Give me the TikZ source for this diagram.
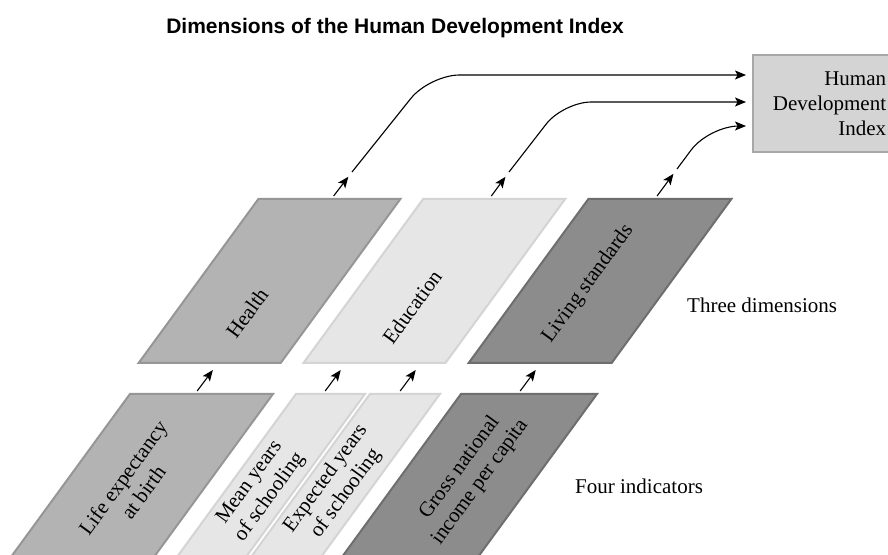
\documentclass[tikz,border=0pt]{standalone}
\usepackage{fontspec}
\setmainfont{Liberation Serif}
\setsansfont{Liberation Sans}
\usetikzlibrary{arrows.meta}

\begin{document}
\begin{tikzpicture}[x=1pt,y=1pt,
  every node/.style={font=\fontsize{21}{25}\selectfont},
  slab/.style={draw, line width=2pt, xslant=0.73, inner sep=0pt, minimum height=164pt},
  tag/.style={rotate=54, align=center, inner sep=0pt},
  link/.style={line width=1.1pt, -{Stealth[length=11pt,width=9pt,inset=2.5pt]}}]
\definecolor{healthFill}{RGB}{179,179,179}
\definecolor{healthDraw}{RGB}{150,150,150}
\definecolor{schoolFill}{RGB}{230,230,230}
\definecolor{schoolDraw}{RGB}{212,212,212}
\definecolor{incomeFill}{RGB}{140,140,140}
\definecolor{incomeDraw}{RGB}{110,110,110}
\definecolor{hdiFill}{RGB}{212,212,212}
\definecolor{hdiDraw}{RGB}{168,168,168}
\path[use as bounding box,fill=white] (0,0) rectangle (888,554);
\begin{scope}
\path[clip] (0,0) rectangle (888,554);

\node[font=\sffamily\bfseries\fontsize{21}{25}\selectfont, anchor=base] (title) at (395,520) {Dimensions of the Human Development Index};

% three dimensions
\node[slab, draw=healthDraw, fill=healthFill, minimum width=142pt] (health) at (269.5,273) {};
\node[slab, draw=schoolDraw, fill=schoolFill, minimum width=142pt] (education) at (434.3,273) {};
\node[slab, draw=incomeDraw, fill=incomeFill, minimum width=143pt] (living) at (600,273) {};

% four indicators
\node[slab, draw=healthDraw, fill=healthFill, minimum width=143pt] (life) at (141.6,78) {};
\node[slab, draw=schoolDraw, fill=schoolFill, minimum width=69pt] (mean) at (270.6,78) {};
\node[slab, draw=schoolDraw, fill=schoolFill, minimum width=70pt] (expected) at (345.1,78) {};
\node[slab, draw=incomeDraw, fill=incomeFill, minimum width=136pt] (gross) at (469.1,78) {};

\node[draw=hdiDraw, fill=hdiFill, line width=2pt, minimum width=153pt, minimum height=97pt, align=right, inner sep=0pt] (hdi) at (829.5,450.5) {Human\\Development\\Index};

\node[tag] (health-tag) at (247,241) {Health};
\node[tag] (education-tag) at (412,247) {Education};
\node[tag] (living-tag) at (588,270) {Living standards};
\node[tag] (life-tag) at (133,69) {Life expectancy\\at birth};
\node[tag] (mean-tag) at (260,64) {Mean years\\of schooling};
\node[tag] (expected-tag) at (336,68) {Expected years\\of schooling};
\node[tag] (gross-tag) at (470,79) {Gross national\\income per capita};

\node[anchor=base west, inner sep=0pt] (three) at (687,241) {Three dimensions};
\node[anchor=base west, inner sep=0pt] (four) at (575,61) {Four indicators};

% indicators to dimensions
\draw[link, shorten <=2.5pt, shorten >=7.5pt] ([xshift=-6.5pt]life.north) -- ([xshift=8.4pt]health.south);
\draw[link, shorten <=2.5pt, shorten >=7.5pt] ([xshift=-7.5pt]mean.north) -- ([xshift=-28.5pt]education.south);
\draw[link, shorten <=2.5pt, shorten >=7.5pt] ([xshift=-7pt]expected.north) -- ([xshift=46.5pt]education.south);
\draw[link, shorten <=2.5pt, shorten >=7.5pt] ([xshift=-11pt]gross.north) -- ([xshift=0.8pt]living.south);

% dimensions to index
\coordinate (h-link) at (352,382);
\coordinate (e-link) at (509,382);
\coordinate (l-link) at (677,385);
\draw[link, shorten <=2.5pt, shorten >=6pt] ([xshift=2pt]health.north) -- (h-link);
\draw[link, shorten <=2.5pt, shorten >=6pt] ([xshift=-5pt]education.north) -- (e-link);
\draw[link, shorten <=2.5pt, shorten >=6pt] ([xshift=-5pt]living.north) -- (l-link);
\draw[link, rounded corners=30pt, shorten >=6pt] (h-link) -- (429.6,479) -- ([yshift=28.5pt]hdi.west);
\draw[link, rounded corners=28pt, shorten >=6pt] (e-link) -- (563.3,452) -- ([yshift=1.5pt]hdi.west);
\draw[link, rounded corners=30pt, shorten >=6pt] (l-link) -- (709,428) -- ([yshift=-22.5pt]hdi.west);
\end{scope}
\end{tikzpicture}
\end{document}
